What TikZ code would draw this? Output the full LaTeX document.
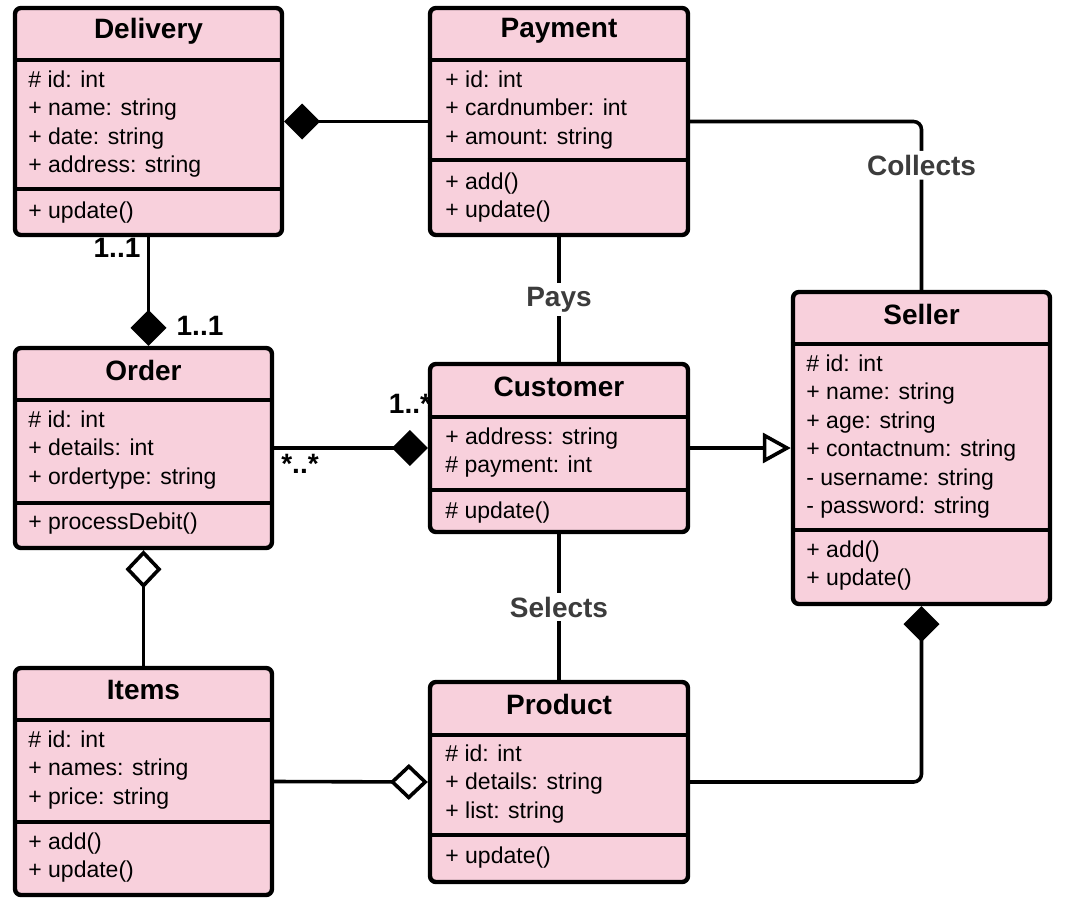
\documentclass[tikz,border=0pt]{standalone}
\usepackage{fontspec}
\setmainfont{Liberation Sans}
\usetikzlibrary{arrows.meta,fit}
\definecolor{classpink}{RGB}{248,208,220}
\definecolor{labelgrey}{RGB}{60,60,60}
\tikzset{
  classbox/.style={draw, line width=2.2pt, fill=classpink, rounded corners=3pt, inner sep=0pt},
  divline/.style={line width=2.2pt},
  classtitle/.style={font=\fontsize{14}{16}\selectfont\bfseries, inner sep=0pt},
  members/.style={font=\fontsize{11.5}{14.25}\selectfont, align=left, anchor=north west, inner sep=0pt},
  link/.style={line width=1.8pt},
  linklabel/.style={font=\fontsize{14}{16}\selectfont\bfseries, text=labelgrey, fill=white, inner sep=2pt},
  mult/.style={font=\fontsize{14}{16}\selectfont\bfseries, inner sep=0pt},
  composite/.style={-{Diamond[length=18pt,width=18pt]}},
  shared/.style={{Diamond[open,length=19pt,width=18pt]}-},
  inherit/.style={-{Triangle[open,length=14pt,width=15pt]}}
}
\begin{document}
\begin{tikzpicture}[x=0.5pt,y=-0.5pt]
    \useasboundingbox (0,0) rectangle (1065,900);
    % classes
    \node[classbox, fit={(15,8) (282,235)}] (delivery) {};
    \draw[divline] (delivery.west |- 0,60) -- (delivery.east |- 0,60);
    \draw[divline] (delivery.west |- 0,189) -- (delivery.east |- 0,189);
    \node[classtitle] (delivery-title) at (148.5,31) {Delivery};
    \node[members] (delivery-attr) at (28,70) {\# id: int\\+ name: string\\+ date: string\\+ address: string};
    \node[members] (delivery-ops) at (28,201) {+ update()};

    \node[classbox, fit={(430,8) (688,235)}] (payment) {};
    \draw[divline] (payment.west |- 0,60) -- (payment.east |- 0,60);
    \draw[divline] (payment.west |- 0,160) -- (payment.east |- 0,160);
    \node[classtitle] (payment-title) at (559,31) {Payment};
    \node[members] (payment-attr) at (445,70) {+ id: int\\+ cardnumber: int\\+ amount: string};
    \node[members] (payment-ops) at (445,172) {+ add()\\+ update()};

    \node[classbox, fit={(793,292) (1050,604)}] (seller) {};
    \draw[divline] (seller.west |- 0,344) -- (seller.east |- 0,344);
    \draw[divline] (seller.west |- 0,530) -- (seller.east |- 0,530);
    \node[classtitle] (seller-title) at (921.5,314) {Seller};
    \node[members] (seller-attr) at (806,354) {\# id: int\\+ name: string\\+ age: string\\+ contactnum: string\\- username: string\\- password: string};
    \node[members] (seller-ops) at (806,540) {+ add()\\+ update()};

    \node[classbox, fit={(15,348) (272,548)}] (order) {};
    \draw[divline] (order.west |- 0,400) -- (order.east |- 0,400);
    \draw[divline] (order.west |- 0,503) -- (order.east |- 0,503);
    \node[classtitle] (order-title) at (143.5,370) {Order};
    \node[members] (order-attr) at (28,410) {\# id: int\\+ details: int\\+ ordertype: string};
    \node[members] (order-ops) at (28,512) {+ processDebit()};

    \node[classbox, fit={(430,364) (688,532)}] (customer) {};
    \draw[divline] (customer.west |- 0,417) -- (customer.east |- 0,417);
    \draw[divline] (customer.west |- 0,490) -- (customer.east |- 0,490);
    \node[classtitle] (customer-title) at (559,387) {Customer};
    \node[members] (customer-attr) at (445,427) {+ address: string\\\# payment: int};
    \node[members] (customer-ops) at (445,501) {\# update()};

    \node[classbox, fit={(15,668) (272,895)}] (items) {};
    \draw[divline] (items.west |- 0,720) -- (items.east |- 0,720);
    \draw[divline] (items.west |- 0,822) -- (items.east |- 0,822);
    \node[classtitle] (items-title) at (143.5,690) {Items};
    \node[members] (items-attr) at (28,730) {\# id: int\\+ names: string\\+ price: string};
    \node[members] (items-ops) at (28,832) {+ add()\\+ update()};

    \node[classbox, fit={(430,682) (688,882)}] (product) {};
    \draw[divline] (product.west |- 0,735) -- (product.east |- 0,735);
    \draw[divline] (product.west |- 0,835) -- (product.east |- 0,835);
    \node[classtitle] (product-title) at (559,704) {Product};
    \node[members] (product-attr) at (445,744) {\# id: int\\+ details: string\\+ list: string};
    \node[members] (product-ops) at (445,846) {+ update()};

    % relations
    \draw[link, composite] (payment.west) -- (delivery.east);
    \draw[link, composite] (delivery.south) -- (delivery.south |- order.north);
    \draw[link] (payment.south) -- node[linklabel] (pays) {Pays} (customer.north);
    \draw[link, rounded corners=4pt] (payment.east) -| node[linklabel, pos=0.63] (collects) {Collects} (seller.north);
    \draw[link, composite] (order.east) -- (order.east -| customer.west);
    \draw[link, inherit] (customer.east) -- (customer.east -| seller.west);
    \draw[link] (customer.south) -- node[linklabel] (selects) {Selects} (product.north);
    \draw[link, shared] (order.south) -- (items.north);
    \draw[link, -{Diamond[open,length=19pt,width=18pt]}] (items.east) -- (product.west);
    \draw[link, rounded corners=4pt, {Diamond[length=18pt,width=18pt]}-] (seller.south) |- (product.east);
    % multiplicities
    \node[mult] (mult-delivery) at (117,248) {1..1};
    \node[mult] (mult-order) at (200,326) {1..1};
    \node[mult] (mult-many) at (300,464) {*..*};
    \node[mult] (mult-customer) at (410,404) {1..*};
\end{tikzpicture}
\end{document}
